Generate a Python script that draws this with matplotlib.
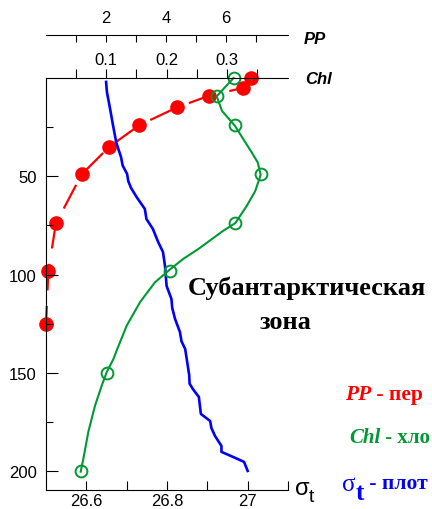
import matplotlib
matplotlib.use('Agg')
from matplotlib import pyplot as plt

RED = '#ff0000'
GREEN = '#009933'
BLUE = '#0000ff'

# primary production (PP) at sample depths
pp_depth = [0, 5, 9, 15, 24, 35, 49, 74, 98, 125]
pp = [6.82, 6.58, 5.44, 4.36, 3.11, 2.11, 1.19, 0.33, 0.08, 0.0]

# chlorophyll (Chl) samples
chl_depth = [0, 9, 24, 49, 74, 98, 150, 200]
chl = [0.311, 0.283, 0.313, 0.356, 0.314, 0.205, 0.101, 0.058]

# chlorophyll curve as drawn through the samples
chl_line_depth = [0, 9.3, 16.8, 24.2, 31, 37.8, 42.9, 49.2, 57.5, 65, 73.8, 77.7,
                  87, 92, 97.7, 103.9, 114, 126, 137.8, 143, 149.7, 156.5, 166.7,
                  180, 193.8, 200.3]
chl_line = [0.311, 0.283, 0.292, 0.313, 0.327, 0.341, 0.351, 0.356, 0.347, 0.333,
            0.314, 0.294, 0.2526, 0.2277, 0.2045, 0.1808, 0.156, 0.1338, 0.1183,
            0.1117, 0.1006, 0.0924, 0.0813, 0.0702, 0.0619, 0.0575]

# density profile sigma-t
sig_depth = [2.0, 7.1, 15.8, 23.9, 32.6, 36.5, 40.2, 44.5, 48.8, 52.5, 56.0, 61.0,
             66.6, 71.7, 76.8, 83.4, 88.5, 95.6, 105.8, 112.4, 117.0, 122.6, 129.2,
             134.0, 137.8, 144.4, 151.1, 155.5, 158.2, 162.3, 170.9, 174.5, 178.0,
             182.1, 187.2, 190.2, 192.8, 195.3, 199.9]
sig = [26.649, 26.651, 26.659, 26.666, 26.674, 26.680, 26.686, 26.690, 26.701,
       26.704, 26.711, 26.726, 26.745, 26.749, 26.765, 26.778, 26.790, 26.795,
       26.799, 26.811, 26.813, 26.820, 26.832, 26.836, 26.845, 26.850, 26.855,
       26.856, 26.864, 26.879, 26.884, 26.907, 26.910, 26.919, 26.935, 26.935,
       26.964, 26.991, 27.000]

W, H = 432, 510


def fx(px):
	return px / W


def fy(py):
	return 1 - py / H


def main():
	plt.rcParams['font.family'] = ['Liberation Sans', 'DejaVu Sans']
	fig = plt.figure(figsize=(W / 100, H / 100), dpi=100)
	fig.patch.set_facecolor('white')

	ax = fig.add_axes([fx(46), fy(491), (288 - 46) / W, (491 - 79) / H])
	ax_pp = ax.twiny()
	ax_s = ax.twiny()
	ax.patch.set_visible(False)

	ax.set_ylim(209.6, 0)
	ax.set_xlim(0, 0.4013)
	ax_pp.set_xlim(0, 8.067)
	ax_s.set_xlim(26.5, 27.1)

	# Chl axis on top
	ax.xaxis.set_ticks_position('top')
	ax.xaxis.set_label_position('top')
	ax.spines['right'].set_visible(False)
	ax.spines['bottom'].set_visible(False)
	ax.set_xticks([0.1, 0.2, 0.3])
	ax.set_xticklabels(['0.1', '0.2', '0.3'])
	ax.set_xticks([0.05, 0.15, 0.25, 0.35], minor=True)
	ax.tick_params(axis='x', which='both', direction='out', length=6.5, width=0.8,
	               pad=1.5, labelsize=12, top=True, bottom=False)
	ax.set_yticks([50, 100, 150, 200])
	ax.set_yticks([25, 75, 125, 175], minor=True)
	ax.tick_params(axis='y', which='major', direction='in', length=8.6, width=0.8,
	               pad=6.5, labelsize=12)
	ax.tick_params(axis='y', which='minor', direction='in', length=5, width=0.8)

	# PP axis, shifted up
	for s in ['left', 'right', 'bottom']:
		ax_pp.spines[s].set_visible(False)
	ax_pp.spines['top'].set_position(('outward', 31))
	ax_pp.set_xticks([2, 4, 6])
	ax_pp.set_xticks([1, 3, 5, 7], minor=True)
	ax_pp.tick_params(axis='x', which='both', direction='in', length=5, width=0.8,
	                  pad=7, labelsize=12)

	# sigma-t axis at the bottom
	for s in ['left', 'right', 'top']:
		ax_s.spines[s].set_visible(False)
	ax_s.xaxis.set_ticks_position('bottom')
	ax_s.set_xticks([26.6, 26.8, 27.0])
	ax_s.set_xticklabels(['26.6', '26.8', '27'])
	ax_s.set_xticks([26.7, 26.9, 27.1], minor=True)
	ax_s.tick_params(axis='x', which='both', direction='in', length=6.5, width=0.8,
	                 pad=2.5, labelsize=12)

	ax_pp.set_zorder(1)
	ax_s.set_zorder(2)
	ax.set_zorder(3)

	ax_pp.plot(pp, pp_depth, color=RED, lw=1.6, ls=(0, (12, 7)), marker='o',
	           ms=9.5, mfc=RED, mec=RED, clip_on=False)
	ax_s.plot(sig, sig_depth, color=BLUE, lw=1.9, clip_on=False)
	ax.plot(chl_line, chl_line_depth, color=GREEN, lw=1.5, clip_on=False)
	ax.plot(chl, chl_depth, ls='none', marker='o', ms=8.5, mfc='none',
	        mec=GREEN, mew=1.4, clip_on=False)

	# axis names
	fig.text(fx(304), fy(40), 'PP', fontsize=12, fontweight='bold',
	         fontstyle='italic', va='center')
	fig.text(fx(305), fy(79), 'Chl', fontsize=12, fontweight='bold',
	         fontstyle='italic', va='center')
	fig.text(fx(295), fy(489), 'σ', fontsize=17, va='center')
	fig.text(fx(309), fy(498), 't', fontsize=14, va='center')

	serif = ['Liberation Serif', 'DejaVu Serif']
	fig.text(fx(188), fy(288), 'Субантарктическая', fontsize=19,
	         fontweight='bold', family=serif, va='center')
	fig.text(fx(286), fy(323), 'зона', fontsize=19, fontweight='bold',
	         family=serif, va='center', ha='center')

	# legend lines, only the part that fits in the frame
	t = fig.text(fx(345), fy(395), 'PP', color=RED, fontsize=15.5,
	             fontweight='bold', fontstyle='italic', family=serif, va='center')
	ax.annotate(' - пер', xy=(1, 0.5), xycoords=t, va='center',
	            color=RED, fontsize=15.5, fontweight='bold', family=serif,
	            annotation_clip=False)
	t = fig.text(fx(349), fy(438), 'Chl', color=GREEN, fontsize=15,
	             fontweight='bold', fontstyle='italic', family=serif, va='center')
	ax.annotate(' - хло', xy=(1, 0.5), xycoords=t, va='center',
	            color=GREEN, fontsize=15, fontweight='bold', family=serif,
	            annotation_clip=False)
	fig.text(fx(342), fy(485), 'σ', color=BLUE, fontsize=18, family=serif,
	         va='center')
	fig.text(fx(356), fy(494), 't', color=BLUE, fontsize=18, fontweight='bold',
	         family=serif, va='center')
	fig.text(fx(364), fy(484), ' - плот', color=BLUE, fontsize=15.5,
	         fontweight='bold', family=serif, va='center')

	fig.savefig('out.png', dpi=100)


if __name__ == '__main__':
	main()
